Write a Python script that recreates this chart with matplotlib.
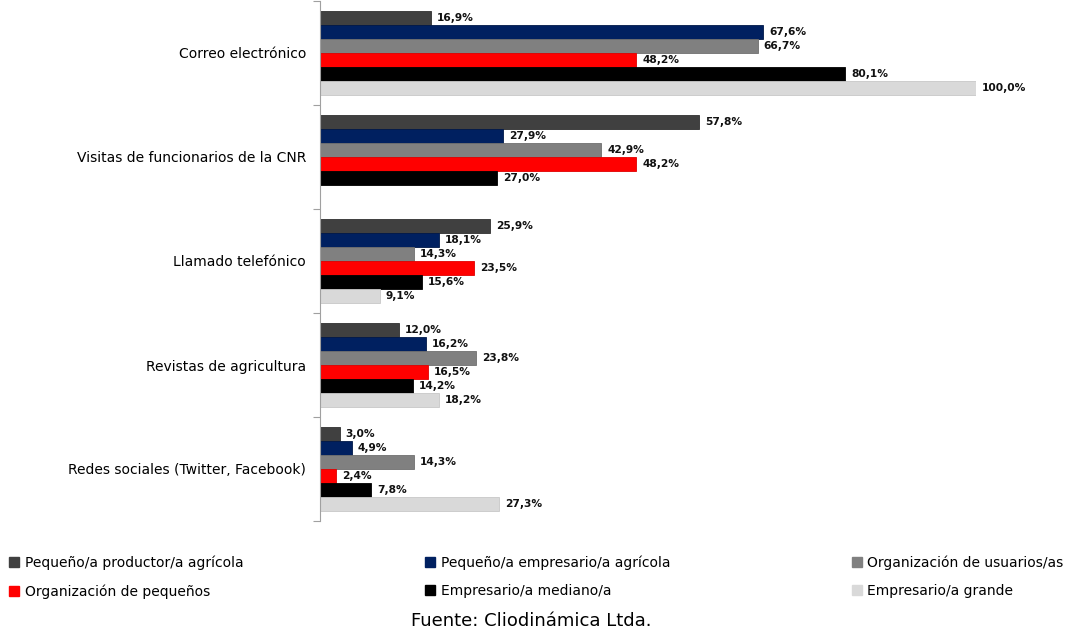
import matplotlib.pyplot as plt
import numpy as np

# categorias (de arriba hacia abajo)
categorias = ["Correo electrónico", "Visitas de funcionarios de la CNR", "Llamado telefónico",
              "Revistas de agricultura", "Redes sociales (Twitter, Facebook)"]

series = ["Pequeño/a productor/a agrícola", "Pequeño/a empresario/a agrícola",
          "Organización de usuarios/as", "Organización de pequeños",
          "Empresario/a mediano/a", "Empresario/a grande"]

productor = [16.9, 57.8, 25.9, 12.0, 3.0]
empresario_peq = [67.6, 27.9, 18.1, 16.2, 4.9]
org_usuarios = [66.7, 42.9, 14.3, 23.8, 14.3]
org_pequenos = [48.2, 48.2, 23.5, 16.5, 2.4]
empresario_med = [80.1, 27.0, 15.6, 14.2, 7.8]
empresario_gde = [100.0, None, 9.1, 18.2, 27.3]

valores = [productor, empresario_peq, org_usuarios, org_pequenos, empresario_med, empresario_gde]
colores = ["#404040", "#002060", "#808080", "#FF0000", "#000000", "#D9D9D9"]
bordes = ["#303030", "#001848", "#707070", "#E00000", "#000000", "#C8C8C8"]

fig = plt.figure(figsize=(10.73, 6.33), dpi=100)
ax = fig.add_axes([320 / 1073, 1 - 521 / 633, 656 / 1073, 520 / 633])

alto = 0.135
y = np.arange(len(categorias))
for j, (vals, c, b) in enumerate(zip(valores, colores, bordes)):
    for i, v in enumerate(vals):
        if v is None:
            continue
        pos = y[i] + (j - 2.5) * alto
        ax.barh(pos, v, height=alto, color=c, edgecolor=b, linewidth=0.6)
        ax.text(v + 0.9, pos, f"{v:.1f}%".replace(".", ","), va="center", ha="left",
                fontsize=7.7, fontweight="bold", color="#111111")

ax.set_xlim(0, 100)
ax.set_ylim(len(categorias) - 0.5, -0.5)
ax.set_yticks(y)
ax.set_yticklabels(categorias, fontsize=10)
ax.set_yticks(np.arange(len(categorias) + 1) - 0.5, minor=True)
ax.tick_params(axis="y", which="major", length=0, pad=10)
ax.tick_params(axis="y", which="minor", length=5, color="#A0A0A0", width=0.8)
ax.set_xticks([])
for s in ["top", "right", "bottom"]:
    ax.spines[s].set_visible(False)
ax.spines["left"].set_color("#A0A0A0")
ax.spines["left"].set_linewidth(0.8)

# leyenda por filas
handles = [plt.Rectangle((0, 0), 1, 1, color=c) for c in colores]
orden = [0, 3, 1, 4, 2, 5]
fig.legend([handles[k] for k in orden], [series[k] for k in orden], ncol=3,
           loc="upper left", bbox_to_anchor=(-0.003, 0.142, 1.006, 0.0), mode="expand",
           frameon=False, fontsize=10, handlelength=0.7, handleheight=0.7,
           handletextpad=0.4, labelspacing=1.0)

fig.text(0.495, 0.005, "Fuente: Cliodinámica Ltda.", ha="center", va="bottom", fontsize=13)

fig.savefig("out.png", dpi=100)
